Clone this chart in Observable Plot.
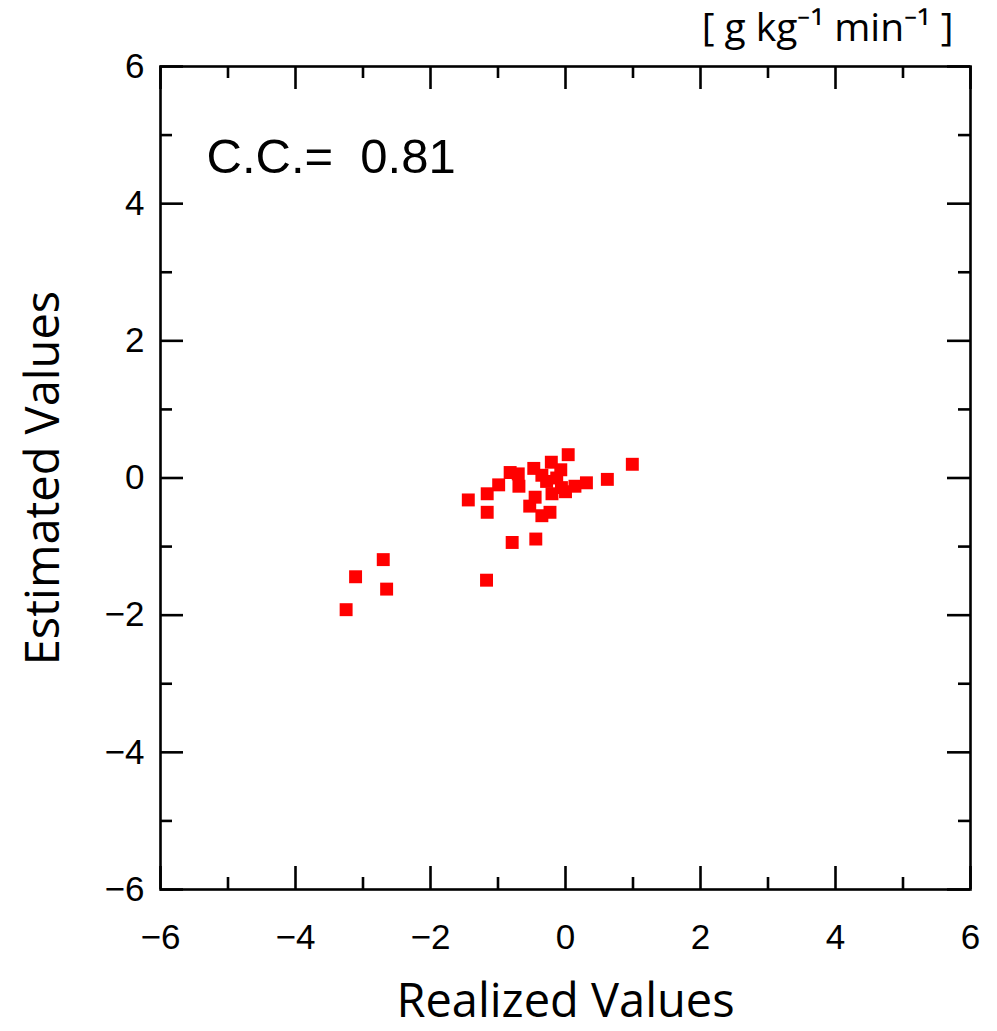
<!DOCTYPE html>
<html>
<head>
<meta charset="utf-8">
<script src="https://cdn.jsdelivr.net/npm/d3@7"></script>
<script src="https://cdn.jsdelivr.net/npm/@observablehq/plot@0.6"></script>
<style>
  html, body { margin: 0; padding: 0; background: #fff; }
</style>
</head>
<body>
<div id="chart"></div>
<script>
// Data
const realized = [0.04, 0.99, -0.21, -0.47, -0.82, -0.70, -0.07, -0.35, -0.13, -0.06, 0.00, 0.62, 0.31, 0.14, -0.20, -0.69, -0.99, -1.16, -1.44, -1.16, -0.45, -0.53, -0.23, -0.35, -0.44, -0.79, -1.17, -2.70, -3.11, -2.65, -3.25, -0.28];
const estimated = [0.34, 0.20, 0.23, 0.14, 0.08, 0.06, 0.12, 0.04, 0.00, -0.14, -0.20, -0.02, -0.07, -0.12, -0.23, -0.12, -0.10, -0.23, -0.32, -0.50, -0.28, -0.41, -0.50, -0.55, -0.89, -0.94, -1.49, -1.19, -1.44, -1.62, -1.92, -0.05];
const majorTicks = [-6, -4, -2, 0, 2, 4, 6];
const minorTicks = [-5, -3, -1, 1, 3, 5];
const ccLabel = "C.C.=\u00a0\u00a00.81";
const xTitle = "Realized Values";
const yTitle = "Estimated Values";
const unitLabel = "[ g kg\u207B\u00B9 min\u207B\u00B9 ]";

const points = realized.map((x, i) => ({x, y: estimated[i]}));

const W = 997, H = 1031;
const mTop = 66, mBottom = 142, mLeft = 160, mRight = 27;
const frameH = H - mTop - mBottom;
const frameW = W - mLeft - mRight;
const majorLen = 23, minorLen = 12;
const sw = 2.6;
const tickFont = "'Liberation Sans', Arial, sans-serif";
const titleFont = "'Open Sans', sans-serif";

const chart = Plot.plot({
  width: W,
  height: H,
  marginTop: mTop,
  marginBottom: mBottom,
  marginLeft: mLeft,
  marginRight: mRight,
  style: {fontFamily: tickFont, fontSize: "35px", color: "#000", background: "#fff"},
  x: {domain: [-6, 6]},
  y: {domain: [-6, 6]},
  marks: [
    Plot.frame({stroke: "#000", strokeWidth: sw}),
    // inward ticks on all four sides
    Plot.ruleX(majorTicks, {insetTop: frameH - majorLen, stroke: "#000", strokeWidth: sw}),
    Plot.ruleX(majorTicks, {insetBottom: frameH - majorLen, stroke: "#000", strokeWidth: sw}),
    Plot.ruleX(minorTicks, {insetTop: frameH - minorLen, stroke: "#000", strokeWidth: sw}),
    Plot.ruleX(minorTicks, {insetBottom: frameH - minorLen, stroke: "#000", strokeWidth: sw}),
    Plot.ruleY(majorTicks, {insetRight: frameW - majorLen, stroke: "#000", strokeWidth: sw}),
    Plot.ruleY(majorTicks, {insetLeft: frameW - majorLen, stroke: "#000", strokeWidth: sw}),
    Plot.ruleY(minorTicks, {insetRight: frameW - minorLen, stroke: "#000", strokeWidth: sw}),
    Plot.ruleY(minorTicks, {insetLeft: frameW - minorLen, stroke: "#000", strokeWidth: sw}),
    Plot.axisX({ticks: majorTicks, tickSize: 0, tickPadding: 35, label: null, fontSize: 35}),
    Plot.axisY({ticks: majorTicks, tickSize: 0, tickPadding: 16, label: null, fontSize: 35}),
    Plot.dot(points, {x: "x", y: "y", symbol: "square", r: 7.3, fill: "#ff0000", stroke: "none"}),
    Plot.text([ccLabel], {frameAnchor: "top-left", textAnchor: "start", lineAnchor: "top", dx: 46, dy: 72, fontSize: 49, fontFamily: tickFont}),
    Plot.text([xTitle], {frameAnchor: "bottom", textAnchor: "middle", lineAnchor: "bottom", dy: 127, fontSize: 47, fontFamily: titleFont}),
    Plot.text([yTitle], {frameAnchor: "left", textAnchor: "middle", rotate: -90, lineAnchor: "middle", dx: -117, fontSize: 47, fontFamily: titleFont}),
    Plot.text([unitLabel], {frameAnchor: "top-right", textAnchor: "end", lineAnchor: "bottom", dx: -17, dy: -26, fontSize: 39, fontFamily: titleFont})
  ]
});
document.getElementById("chart").appendChild(chart);
</script>
</body>
</html>
